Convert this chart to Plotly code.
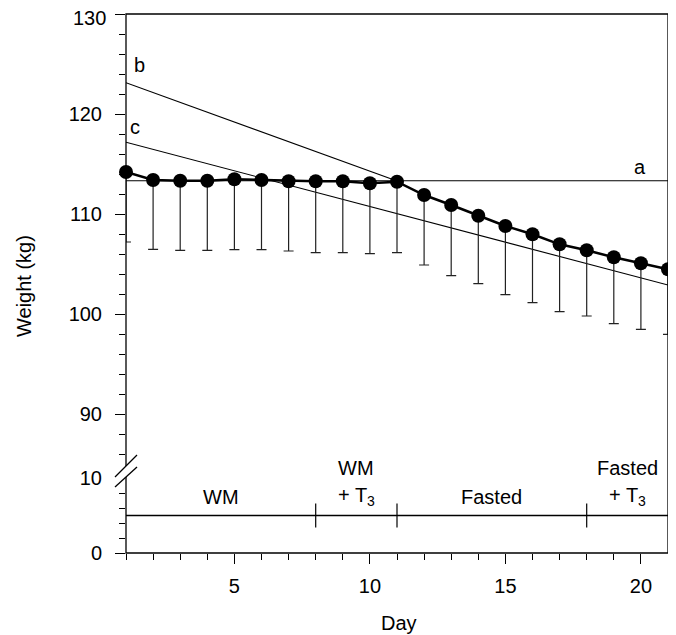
import plotly.graph_objects as go

# ---------------- data ----------------
days = list(range(1, 22))
mean_weight = [114.2, 113.4, 113.33, 113.33, 113.47, 113.4, 113.27, 113.27, 113.27, 113.07,
               113.23, 111.9, 110.9, 109.83, 108.8, 107.97, 106.97, 106.37, 105.67, 105.07, 104.47]
lower_sd = [107.2, 106.47, 106.37, 106.37, 106.43, 106.43, 106.3, 106.13, 106.13, 106.03,
            106.13, 104.9, 103.83, 103.03, 101.93, 101.13, 100.23, 99.8, 99.03, 98.47, 97.97]

line_a_x = [1, 21]
line_a_y = [113.33, 113.33]
line_b_x = [1, 11]
line_b_y = [123.13, 113.3]
line_c_x = [1, 21]
line_c_y = [117.17, 102.9]

upper_ticks = [90, 100, 110, 120, 130]
lower_ticks = [0, 10]
x_ticks = [5, 10, 15, 20]

phase_bounds = [8, 11, 18]
phase_level = 5
phase_names = [["WM"], ["WM", "+ T<sub>3</sub>"], ["Fasted"], ["Fasted", "+ T<sub>3</sub>"]]
phase_centers = [4.5, 9.5, 14.5, 19.5]

FONT = "Liberation Sans, Arial, sans-serif"
fs = 20

# geometry (pixels); page body has an 8px default margin
OFF = 8
W, H = 676, 635
L, R, T, B = 118, 16, 6, 90
PW, PH = W - L - R, H - T - B
def py(p):  # screen pixel y -> paper
    return (H - B - (p - OFF)) / PH
def px(p):  # screen pixel x -> paper
    return (p - OFF - L) / PW

fig = go.Figure()
err_minus = [m - l for m, l in zip(mean_weight, lower_sd)]

for xs, ys in [(line_a_x, line_a_y), (line_b_x, line_b_y), (line_c_x, line_c_y)]:
    fig.add_trace(go.Scatter(x=xs, y=ys, mode="lines", xaxis="x", yaxis="y2",
                             line=dict(color="black", width=1.1), showlegend=False,
                             hoverinfo="skip"))

fig.add_trace(go.Scatter(
    x=days, y=mean_weight, mode="lines+markers", xaxis="x", yaxis="y2",
    line=dict(color="black", width=2.5),
    marker=dict(color="black", size=14),
    error_y=dict(type="data", symmetric=False, array=[0] * len(days), arrayminus=err_minus,
                 color="#222", thickness=1.2, width=5),
    cliponaxis=False, showlegend=False))

# phase bar in the lower panel
fig.add_trace(go.Scatter(x=[days[0], days[-1]], y=[phase_level, phase_level], mode="lines",
                         xaxis="x", yaxis="y", line=dict(color="black", width=1.3),
                         showlegend=False, cliponaxis=False))
vx, vy = [], []
for b in phase_bounds:
    vx += [b, b, None]
    vy += [phase_level - 1.6, phase_level + 1.6, None]
fig.add_trace(go.Scatter(x=vx, y=vy, mode="lines", xaxis="x", yaxis="y",
                         line=dict(color="black", width=1.2), showlegend=False))

upper_bottom = py(464)
lower_top = py(478)

def lower_paper(v):  # value on the lower axis [0,10] -> paper y
    return lower_top * v / 10.0

tf = dict(family=FONT, size=fs, color="black")
annotations = []
for names, cx in zip(phase_names, phase_centers):
    if len(names) == 1:
        annotations.append(dict(x=cx, y=lower_paper(7.5), xref="x", yref="paper", text=names[0],
                                xanchor="center", yanchor="middle", showarrow=False, font=tf))
    else:
        annotations.append(dict(x=cx, y=lower_paper(11.35), xref="x", yref="paper", text=names[0],
                                xanchor="center", yanchor="middle", showarrow=False, font=tf))
        annotations.append(dict(x=cx, y=lower_paper(7.5), xref="x", yref="paper", text=names[1],
                                xanchor="center", yanchor="middle", showarrow=False, font=tf))

for txt, x, y in [("a", 19.97, 114.7), ("b", 1.5, 124.9), ("c", 1.33, 118.7)]:
    annotations.append(dict(x=x, y=y, xref="x", yref="y2", text=txt, showarrow=False,
                            xanchor="center", yanchor="middle", font=tf))

# top tick label drawn as annotation, nudged so it stays inside the page
annotations.append(dict(x=px(107), y=upper_ticks[-1], xref="paper", yref="y2",
                        text=str(upper_ticks[-1]), xanchor="right", yanchor="middle",
                        yshift=-4, borderpad=0, showarrow=False, font=tf))

annotations.append(dict(x=px(399), y=py(623), xref="paper", yref="paper", text="Day",
                        xanchor="center", yanchor="middle", showarrow=False, font=tf))
annotations.append(dict(x=px(24), y=py(286), xref="paper", yref="paper", text="Weight (kg)",
                        textangle=-90, xanchor="center", yanchor="middle", showarrow=False,
                        font=tf))

shapes = [
    dict(type="rect", xref="paper", yref="paper", x0=0, y0=0, x1=1, y1=1,
         line=dict(color="black", width=1.3), layer="above"),
    dict(type="path", xref="paper", yref="paper",
         path=f"M {px(115)},{py(477)} L {px(137)},{py(455)} L {px(137)},{py(467)} L {px(115)},{py(487)} Z",
         fillcolor="white", line=dict(width=0), layer="above"),
    dict(type="line", xref="paper", yref="paper", x0=px(115), y0=py(477), x1=px(137), y1=py(455),
         line=dict(color="black", width=1.3), layer="above"),
    dict(type="line", xref="paper", yref="paper", x0=px(115), y0=py(487), x1=px(137), y1=py(467),
         line=dict(color="black", width=1.3), layer="above"),
]

axis_common = dict(showgrid=False, zeroline=False, ticks="outside", tickcolor="black",
                   tickwidth=1.2, ticklen=10, tickfont=tf,
                   showline=False, automargin=False, ticklabeloverflow="allow")
minor_style = dict(ticks="outside", ticklen=6, tickcolor="black", tickwidth=1.2)

fig.update_layout(
    width=W, height=H, margin=dict(l=L, r=R, t=T, b=B, autoexpand=False),
    paper_bgcolor="white", plot_bgcolor="white",
    xaxis=dict(range=[1, 21], tickvals=x_ticks, anchor="y",
               minor=dict(dtick=1, tick0=0, **minor_style),
               ticklabelstandoff=5, **axis_common),
    yaxis=dict(domain=[0, lower_top], range=[0, 10], tickvals=lower_ticks, anchor="x",
               minor=dict(dtick=2, tick0=0, **minor_style),
               ticklabelstandoff=9, **axis_common),
    yaxis2=dict(domain=[upper_bottom, 1], range=[85, 130], tickvals=upper_ticks,
                ticktext=[str(v) for v in upper_ticks[:-1]] + [""],
                anchor="x",
                minor=dict(dtick=2, tick0=0, **minor_style),
                ticklabelstandoff=9, **axis_common),
    annotations=annotations, shapes=shapes,
)

fig.write_html("out.html")
